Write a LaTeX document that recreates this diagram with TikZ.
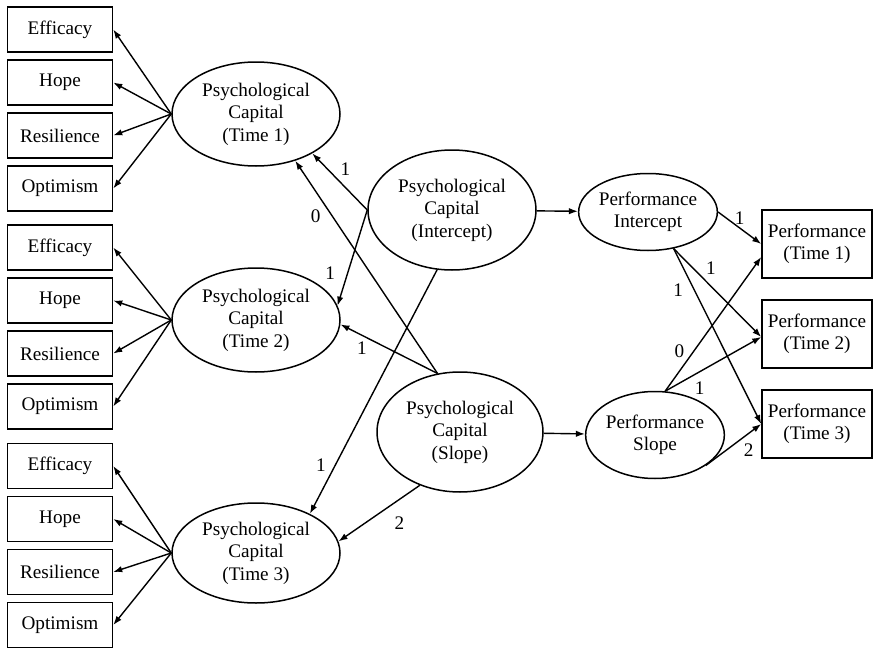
\documentclass[tikz,border=0pt]{standalone}
\usepackage{fontspec}
\setmainfont{Liberation Serif}
\usetikzlibrary{arrows.meta,shapes.geometric}

\begin{document}
\begin{tikzpicture}[
      x=0.5pt, y=-0.5pt,
      font=\fontsize{9.6}{11.25}\selectfont,
      ind/.style={rectangle, draw, line width=0.75pt, minimum width=52.5pt, minimum height=22.5pt, inner sep=0pt},
      obs/.style={rectangle, draw, line width=0.75pt, minimum width=55pt, minimum height=34pt, inner sep=0pt, align=center},
      lat/.style={ellipse, draw, line width=0.75pt, inner sep=0pt, align=center},
      arr/.style={-{Latex[length=4.5pt,width=3.2pt]}, line width=0.7pt},
      lbl/.style={inner sep=1.5pt}
    ]
      \useasboundingbox (0,0) rectangle (874,648);

      % latent factors
      \node[lat, minimum width=84pt, minimum height=52pt] (pc1) at (256,114) {Psychological\\Capital\\(Time 1)};
      \node[lat, minimum width=84pt, minimum height=52pt] (pc2) at (256,320) {Psychological\\Capital\\(Time 2)};
      \node[lat, minimum width=84pt, minimum height=50pt] (pc3) at (256,553) {Psychological\\Capital\\(Time 3)};
      \node[lat, minimum width=84pt, minimum height=60pt] (pcint) at (452,210) {Psychological\\Capital\\(Intercept)};
      \node[lat, minimum width=83pt, minimum height=60pt] (pcslope) at (460,432) {Psychological\\Capital\\(Slope)};
      \node[lat, minimum width=68.5pt, minimum height=38.5pt] (perfint) at (648,212) {Performance\\Intercept};
      \node[lat, minimum width=68pt, minimum height=43.5pt] (perfslope) at (655,435) {Performance\\Slope};

      % observed performance
      \node[obs] (perf1) at (817,244) {Performance\\(Time 1)};
      \node[obs] (perf2) at (817,334) {Performance\\(Time 2)};
      \node[obs] (perf3) at (817,424) {Performance\\(Time 3)};

      % indicators
      \foreach \t/\y in {1/29.5,2/247.5,3/466} {
        \node[ind] (eff\t) at (60,\y) {Efficacy};
        \node[ind] (hope\t) at (60,\y+53) {Hope};
        \node[ind] (res\t) at (60,\y+106) {Resilience};
        \node[ind] (opt\t) at (60,\y+159) {Optimism};
        \foreach \i in {eff,hope,res,opt}
          \draw[arr] (pc\t.west) -- (\i\t.east);
      }

      % growth model, psychological capital
      \draw[arr] (pcint.west) -- node[lbl, pos=0.55, above right] {1} (pc1.-35);
      \draw[arr] (pcslope.111) -- node[lbl, pos=0.74, left=4pt] {0} (pc1.-50);
      \draw[arr] (pcint.west) -- node[lbl, pos=0.66, left=4.5pt] {1} (pc2.10);
      \draw[arr] (pcslope.111) -- node[lbl, pos=0.78, below=1.5pt] {1} (pc2.-3);
      \draw[arr] (pcint.-104) -- node[lbl, pos=0.8, left=3pt] {1} (pc3.36);
      \draw[arr] (pcslope.-127) -- node[lbl, pos=0.25, below=7pt] {2} (pc3.8);
      \draw[arr] (pcint) -- (perfint);
      \draw[arr] (pcslope) -- (perfslope);

      % growth model, performance
      \draw[arr] (perfint.east) -- node[lbl, pos=0.5, above] {1} (perf1.west);
      \draw[arr] (perfint.-55) -- node[lbl, pos=0.33, above right] {1} ([yshift=-1.5pt]perf2.west);
      \draw[arr] (perfint.-55) -- node[lbl, pos=0.24, left=4pt] {1} (perf3.west);
      \draw[arr] (perfslope.77) -- node[lbl, pos=0.3, left=3pt] {0} ([yshift=-6.5pt]perf1.west);
      \draw[arr] (perfslope.77) -- node[lbl, pos=0.36, below=3pt] {1} ([yshift=-1.5pt]perf2.west);
      \draw[arr] (perfslope.-31) -- node[lbl, pos=0.62, below right] {2} (perf3.west);
    \end{tikzpicture}
\end{document}
